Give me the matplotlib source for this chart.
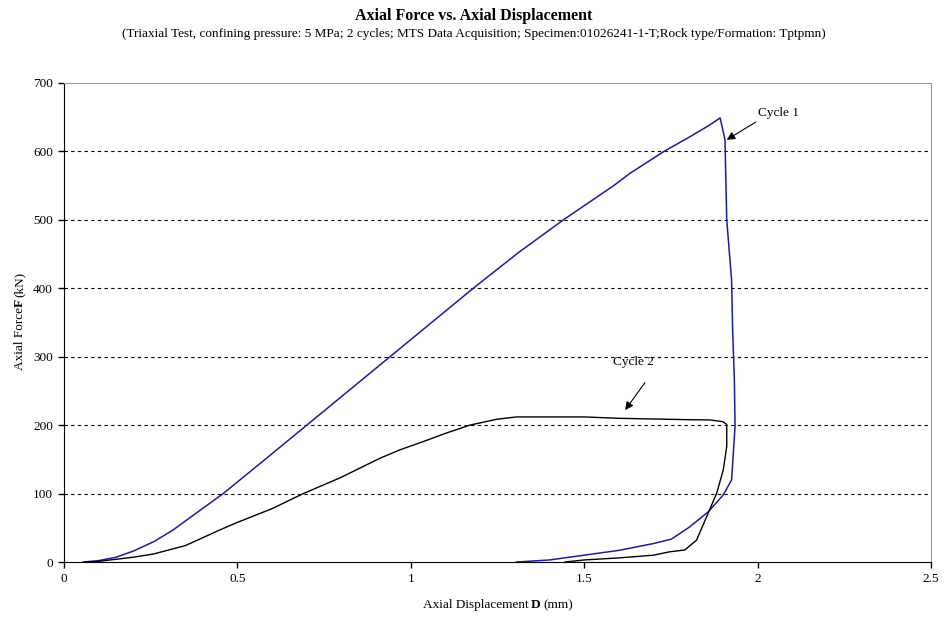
# Fuerza axial vs desplazamiento axial (ensayo triaxial, 2 ciclos)

import matplotlib
matplotlib.use("Agg")
import matplotlib.pyplot as plt

plt.rcParams['font.family'] = ['Liberation Serif', 'DejaVu Serif']

# Ciclo 1 (azul): carga y descarga
ciclo1_d = [0.055, 0.1, 0.15, 0.2, 0.26, 0.315, 0.35, 0.459, 0.58, 0.70, 0.82, 0.94,
            1.06, 1.18, 1.31, 1.44, 1.585, 1.632, 1.73, 1.80, 1.86, 1.892,
            1.906, 1.911, 1.925, 1.928, 1.933, 1.935, 1.925, 1.901, 1.858,
            1.805, 1.752, 1.7, 1.6, 1.5, 1.4, 1.305]
ciclo1_f = [0, 2, 7, 16, 30, 47, 60, 100, 150, 200, 250, 300,
            350, 400, 452, 500, 550, 568, 600, 620, 638, 649,
            617, 500, 412, 339, 266, 198, 120, 98, 73.5,
            51.6, 33.6, 27, 17, 10, 3, 0]

# Ciclo 2 (negro)
ciclo2_d = [0.06, 0.1, 0.15, 0.2, 0.258, 0.35, 0.45, 0.498, 0.6, 0.69, 0.796, 0.911,
            0.969, 1.036, 1.1, 1.17, 1.248, 1.305, 1.4, 1.5, 1.6, 1.7, 1.8, 1.863,
            1.90, 1.911, 1.911, 1.901, 1.882, 1.853, 1.824, 1.79, 1.747, 1.7,
            1.6, 1.5, 1.445]
ciclo2_f = [0, 1, 4, 7, 11.7, 24, 47, 57.5, 78, 100, 123, 151.6,
            164, 176, 188, 200, 208.6, 212, 212, 212, 210, 209, 208, 207.6,
            205, 201, 169, 134.5, 100.4, 66.2, 32, 17.5, 15, 10,
            6, 3, 0]

W, H = 947, 623


def texto_mixto(fig, partes, cx, cy, vertical=False, size=9.5):
    """Escribe varias piezas de texto (normal/negrita) una tras otra, centradas en (cx, cy) px."""
    objs = [fig.text(0, 0, t, fontsize=size, fontweight=w, rotation=90 if vertical else 0)
            for t, w, g in partes]
    fig.canvas.draw()
    r = fig.canvas.get_renderer()
    largos = []
    for o in objs:
        bb = o.get_window_extent(r)
        largos.append(bb.height if vertical else bb.width)
    huecos = [g for t, w, g in partes]
    total = sum(largos) + sum(huecos[:-1])
    pos = (cy if vertical else cx) - total / 2
    for o, l, g in zip(objs, largos, huecos):
        if vertical:
            o.set_position((cx / W, pos / H))
            o.set_ha('center')
            o.set_va('bottom')
        else:
            o.set_position((pos / W, cy / H))
            o.set_ha('left')
            o.set_va('center')
        pos += l + g


fig = plt.figure(figsize=(9.47, 6.23), dpi=100)
ax = fig.add_axes([0.0676, 0.0979, 0.9155, 0.7689])

ax.plot(ciclo1_d, ciclo1_f, color='#1c1ca0', lw=1.1)
ax.plot(ciclo2_d, ciclo2_f, color='black', lw=1.0)

ax.set_xlim(0, 2.5)
ax.set_ylim(0, 700)
ax.set_xticks([0, 0.5, 1, 1.5, 2, 2.5])
ax.set_xticklabels(['0', '0.5', '1', '1.5', '2', '2.5'])
ax.set_yticks(range(0, 701, 100))
ax.tick_params(direction='out', length=4, width=1, labelsize=9.5, pad=4)

for y in range(100, 700, 100):
    ax.axhline(y, color='black', lw=0.8, ls=(0, (3, 3)), zorder=0)

for s in ['top', 'right']:
    ax.spines[s].set_color('#9a9a9a')
for s in ['left', 'bottom']:
    ax.spines[s].set_color('black')

fig.text(0.5, 0.975, 'Axial Force vs. Axial Displacement', ha='center', va='center',
         fontsize=11.5, fontweight='bold')
fig.text(0.5, 0.945, '(Triaxial Test, confining pressure: 5 MPa; 2 cycles; MTS Data Acquisition; '
         'Specimen:01026241-1-T;Rock type/Formation: Tptpmn)', ha='center', va='center', fontsize=9.5)

# anotaciones de los ciclos
ax.text(2.0, 656, 'Cycle 1', fontsize=9.5, va='center')
ax.annotate('', xy=(1.911, 617), xytext=(1.995, 643),
            arrowprops=dict(arrowstyle='-|>', color='black', lw=0.8, shrinkA=0, shrinkB=0,
                            mutation_scale=12))
ax.text(1.583, 293, 'Cycle 2', fontsize=9.5, va='center')
ax.annotate('', xy=(1.618, 222), xytext=(1.675, 262),
            arrowprops=dict(arrowstyle='-|>', color='black', lw=0.8, shrinkA=0, shrinkB=0,
                            mutation_scale=12))

# etiquetas de ejes con la letra en negrita
texto_mixto(fig, [('Axial Displacement', 'normal', 2.5), ('D', 'bold', 2.5), ('(mm)', 'normal', 0)],
            498, H - 605)
texto_mixto(fig, [('Axial Force', 'normal', 0), ('F', 'bold', 2.5), ('(kN)', 'normal', 0)],
            20, H - 321, vertical=True)

plt.savefig('out.png', dpi=100)
plt.close()
